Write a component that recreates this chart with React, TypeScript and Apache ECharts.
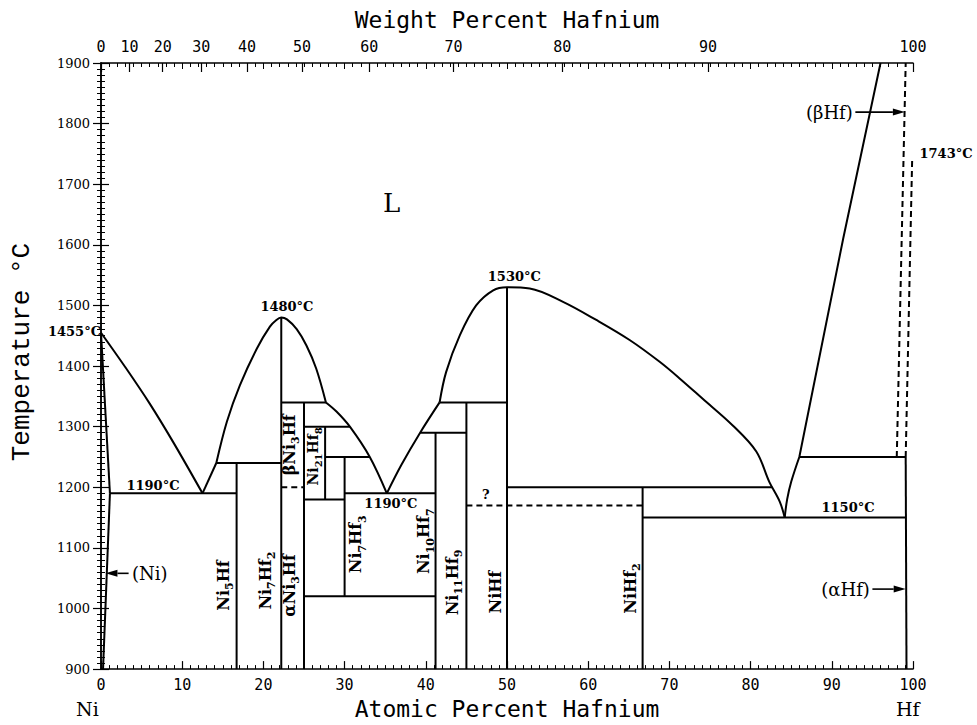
import React, { useEffect, useRef } from "react";
import * as echarts from "echarts";

const SERIF = "DejaVu Serif";
const MONO = "DejaVu Sans Mono";
const SLAB = "Liberation Mono";

// molar masses for the weight-percent scale
const M_NI = 58.69;
const M_HF = 178.49;

// axis ticks
const weightPercentTicks = [0, 10, 20, 30, 40, 50, 60, 70, 80, 90, 100];
const atomicRange = [0, 100];
const tempRange = [900, 1900];

// ---- phase boundaries (at.% Hf, °C) ----
const niLiquidus = [[0, 1455], [3, 1398], [6, 1338], [9, 1272], [12.5, 1190]];
const niSolidus = [[0, 1455], [1.1, 1190]];
const niSolvus = [[1.1, 1190], [0.25, 900]];
const niEutectic = [[1.1, 1190], [16.7, 1190]];
const ni5HfLiquidus = [[12.5, 1190], [14.2, 1240]];
const ni5HfPeritectic = [[14.2, 1240], [22.2, 1240]];
const ni5Hf = [[16.7, 900], [16.7, 1240]];
const ni7Hf2Liquidus = [[14.2, 1240], [15.5, 1308], [17.1, 1368], [19.2, 1429], [20.8, 1465], [21.6, 1476], [22.2, 1480], [22.9, 1477], [24.1, 1461], [25.3, 1434], [26.5, 1396], [27.7, 1340]];
const ni7Hf2 = [[22.2, 900], [22.2, 1480]];
const ni3Hf = [[25, 900], [25, 1340]];
const ni3HfPeritectic = [[22.2, 1340], [27.7, 1340]];
const ni3HfTransition = [[22.2, 1200], [25, 1200]];
const ni21Hf8Peritectic = [[25, 1300], [30.65, 1300]];
const ni21Hf8 = [[27.6, 1180], [27.6, 1300]];
const ni7Hf3Peritectic = [[27.6, 1250], [33.1, 1250]];
const ni21Hf8Eutectoid = [[25, 1180], [30, 1180]];
const ni7Hf3 = [[30, 1020], [30, 1250]];
const ni7Hf3Eutectoid = [[25, 1020], [41.2, 1020]];
const midLiquidusLeft = [[27.7, 1340], [29.0, 1325], [30.65, 1300], [33.1, 1250], [35.2, 1190]];
const midEutectic = [[30, 1190], [41.2, 1190]];
const midLiquidusRight = [[35.2, 1190], [37.0, 1237], [39.3, 1290], [41.7, 1340]];
const ni10Hf7 = [[41.2, 900], [41.2, 1290]];
const ni10Hf7Peritectic = [[39.3, 1290], [45, 1290]];
const ni11Hf9 = [[45, 900], [45, 1340]];
const ni11Hf9Peritectic = [[41.7, 1340], [50, 1340]];
const niHf = [[50, 900], [50, 1530]];
const niHfLiquidus = [[41.7, 1340], [42.5, 1390], [44.2, 1451], [46.2, 1500], [48.3, 1525], [50, 1530], [52.8, 1528], [56.9, 1506], [61.0, 1476], [65.1, 1443], [68.8, 1407], [71.4, 1378], [74.1, 1346], [77.8, 1302], [80.7, 1259], [82.3, 1209], [83.6, 1176], [84.2, 1150]];
const unknownTransition = [[45, 1170], [66.7, 1170]];
const niHf2Peritectic = [[50, 1200], [82.65, 1200]];
const niHf2 = [[66.7, 900], [66.7, 1200]];
const hfEutectic = [[66.7, 1150], [99.1, 1150]];
const betaHfLiquidusLow = [[84.2, 1150], [84.5, 1180], [85.0, 1209], [86.0, 1250]];
const betaHfLiquidus = [[86.0, 1250], [91.4, 1610], [96.0, 1900]];
const hfEutectoid = [[86.0, 1250], [99.1, 1250]];
const alphaHfSolvus = [[99.1, 1250], [99.2, 900]];
const betaHfBoundaryLeft = [[98.0, 1250], [99.1, 1900]];
const betaHfBoundaryRight = [[99.1, 1250], [99.9, 1743]];

// ---- annotations ----
const phaseLabels = [
  { text: "{b|Ni}{s|5}{b|Hf}", at: 15.3, t: 1038 },
  { text: "{b|Ni}{s|7}{b|Hf}{s|2}", at: 20.5, t: 1046 },
  { text: "{b|αNi}{s|3}{b|Hf}", at: 23.4, t: 1038 },
  { text: "{b|βNi}{s|3}{b|Hf}", at: 23.4, t: 1270 },
  { text: "{c|Ni}{u|21}{c|Hf}{u|8}", at: 26.3, t: 1251 },
  { text: "{b|Ni}{s|7}{b|Hf}{s|3}", at: 31.6, t: 1106 },
  { text: "{b|Ni}{s|10}{b|Hf}{s|7}", at: 40.0, t: 1111 },
  { text: "{b|Ni}{s|11}{b|Hf}{s|9}", at: 43.5, t: 1043 },
  { text: "{b|NiHf}", at: 48.8, t: 1027 },
  { text: "{b|NiHf}{s|2}", at: 65.4, t: 1033 },
];
const tempLabels = [
  { text: "1455°C", at: 0, t: 1457, align: "right" },
  { text: "1480°C", at: 22.9, t: 1498, align: "center" },
  { text: "1530°C", at: 50.9, t: 1547, align: "center" },
  { text: "1190°C", at: 6.4, t: 1203, align: "center" },
  { text: "1190°C", at: 35.7, t: 1174, align: "center" },
  { text: "1150°C", at: 92.0, t: 1167, align: "center" },
  { text: "1743°C", at: 100.8, t: 1751, align: "left" },
];
const plainLabels = [
  { text: "L", at: 35.8, t: 1669, size: 26 },
  { text: "?", at: 47.4, t: 1188, size: 13 },
  { text: "(Ni)", at: 6.0, t: 1058, size: 18 },
  { text: "(αHf)", at: 91.7, t: 1032, size: 18 },
  { text: "(βHf)", at: 89.7, t: 1819, size: 18 },
];
const arrows = [
  [3.4, 1058, 0.55, 1058],
  [95.0, 1032, 99.1, 1032],
  [92.9, 1819, 99.0, 1819],
];

const atFromWt = (w: number) =>
  w <= 0 ? 0 : w >= 100 ? 100 : ((w / M_HF) / (w / M_HF + (100 - w) / M_NI)) * 100;
const wtFromAt = (a: number) =>
  a <= 0 ? 0 : a >= 100 ? 100 : ((a * M_HF) / (a * M_HF + (100 - a) * M_NI)) * 100;

const INK = "#000";

function solid(data: number[][], smooth = false) {
  return {
    type: "line",
    data,
    symbol: "none",
    smooth: smooth ? 0.35 : false,
    silent: true,
    clip: false,
    lineStyle: { color: INK, width: 2 },
  };
}
function dashed(data: number[][]) {
  return {
    type: "line",
    data,
    symbol: "none",
    silent: true,
    clip: false,
    lineStyle: { color: INK, width: 2, type: [6, 4] },
  };
}

const rich = {
  b: { fontFamily: SERIF, fontWeight: "bold", fontSize: 16, lineHeight: 20, verticalAlign: "top", fill: INK },
  s: { fontFamily: SERIF, fontWeight: "bold", fontSize: 11, lineHeight: 20, verticalAlign: "bottom", fill: INK },
  c: { fontFamily: SERIF, fontWeight: "bold", fontSize: 14, lineHeight: 18, verticalAlign: "top", fill: INK },
  u: { fontFamily: SERIF, fontWeight: "bold", fontSize: 10, lineHeight: 18, verticalAlign: "bottom", fill: INK },
};

export default function App() {
  const ref = useRef<HTMLDivElement>(null);
  useEffect(() => {
    if (!ref.current) return;
    const chart = echarts.init(ref.current, null, { renderer: "svg" });
    const wtAt = weightPercentTicks.map(atFromWt);

    const boundaries = [
      solid(niLiquidus, true),
      solid(niSolidus),
      solid(niSolvus),
      solid(niEutectic),
      solid(ni5HfLiquidus),
      solid(ni5HfPeritectic),
      solid(ni5Hf),
      solid(ni7Hf2Liquidus, true),
      solid(ni7Hf2),
      solid(ni3Hf),
      solid(ni3HfPeritectic),
      dashed(ni3HfTransition),
      solid(ni21Hf8Peritectic),
      solid(ni21Hf8),
      solid(ni7Hf3Peritectic),
      solid(ni21Hf8Eutectoid),
      solid(ni7Hf3),
      solid(ni7Hf3Eutectoid),
      solid(midLiquidusLeft, true),
      solid(midEutectic),
      solid(midLiquidusRight, true),
      solid(ni10Hf7),
      solid(ni10Hf7Peritectic),
      solid(ni11Hf9),
      solid(ni11Hf9Peritectic),
      solid(niHf),
      solid(niHfLiquidus, true),
      dashed(unknownTransition),
      solid(niHf2Peritectic),
      solid(niHf2),
      solid(hfEutectic),
      solid(betaHfLiquidusLow, true),
      solid(betaHfLiquidus),
      solid(hfEutectoid),
      solid(alphaHfSolvus),
      dashed(betaHfBoundaryLeft),
      dashed(betaHfBoundaryRight),
    ];

    const phaseSeries = {
      type: "custom",
      coordinateSystem: "cartesian2d",
      clip: false,
      silent: true,
      data: phaseLabels.map((l) => [l.at, l.t]),
      renderItem: (params: any, api: any) => {
        const l = phaseLabels[params.dataIndex];
        const p = api.coord([api.value(0), api.value(1)]);
        return {
          type: "text",
          x: p[0],
          y: p[1],
          rotation: Math.PI / 2,
          style: { text: l.text, rich, align: "center", verticalAlign: "middle", fill: INK },
        };
      },
    };
    const tempSeries = {
      type: "custom",
      coordinateSystem: "cartesian2d",
      clip: false,
      silent: true,
      data: tempLabels.map((l) => [l.at, l.t]),
      renderItem: (params: any, api: any) => {
        const l = tempLabels[params.dataIndex];
        const p = api.coord([api.value(0), api.value(1)]);
        return {
          type: "text",
          x: p[0],
          y: p[1],
          style: {
            text: l.text,
            fontFamily: SERIF,
            fontWeight: "bold",
            fontSize: 13,
            align: l.align,
            verticalAlign: "middle",
            fill: INK,
          },
        };
      },
    };
    const plainSeries = {
      type: "custom",
      coordinateSystem: "cartesian2d",
      clip: false,
      silent: true,
      data: plainLabels.map((l) => [l.at, l.t]),
      renderItem: (params: any, api: any) => {
        const l = plainLabels[params.dataIndex];
        const p = api.coord([api.value(0), api.value(1)]);
        return {
          type: "text",
          x: p[0],
          y: p[1],
          style: {
            text: l.text,
            fontFamily: SERIF,
            fontWeight: l.text === "?" ? "bold" : "normal",
            fontSize: l.size,
            align: "center",
            verticalAlign: "middle",
            fill: INK,
          },
        };
      },
    };
    const arrowSeries = {
      type: "custom",
      coordinateSystem: "cartesian2d",
      clip: false,
      silent: true,
      data: arrows,
      renderItem: (params: any, api: any) => {
        const a = api.coord([api.value(0), api.value(1)]);
        const b = api.coord([api.value(2), api.value(3)]);
        const dx = b[0] - a[0];
        const dy = b[1] - a[1];
        const len = Math.hypot(dx, dy) || 1;
        const ux = dx / len;
        const uy = dy / len;
        const hl = 12;
        const hw = 3.5;
        const bx = b[0] - ux * hl;
        const by = b[1] - uy * hl;
        return {
          type: "group",
          children: [
            { type: "line", shape: { x1: a[0], y1: a[1], x2: bx, y2: by }, style: { stroke: INK, lineWidth: 1.6 } },
            {
              type: "polygon",
              shape: { points: [[b[0], b[1]], [bx - uy * hw, by + ux * hw], [bx + uy * hw, by - ux * hw]] },
              style: { fill: INK },
            },
          ],
        };
      },
    };

    const axisLineStyle = { color: INK, width: 1.5 };
    const option: any = {
      animation: false,
      backgroundColor: "#fff",
      grid: { left: 101, top: 63, width: 812, height: 608 },
      xAxis: [
        {
          type: "value",
          position: "bottom",
          min: atomicRange[0],
          max: atomicRange[1],
          interval: 10,
          name: "Atomic Percent Hafnium",
          nameLocation: "middle",
          nameGap: 27,
          nameTextStyle: { fontFamily: MONO, fontSize: 23, color: INK },
          axisLine: { lineStyle: axisLineStyle },
          axisTick: { inside: true, length: 8, lineStyle: { color: INK, width: 1.2 } },
          minorTick: { show: true, splitNumber: 10, length: 4, lineStyle: { color: INK, width: 1 } },
          axisLabel: { fontFamily: MONO, fontSize: 15, color: INK, margin: 8 },
          splitLine: { show: false },
        },
        {
          type: "value",
          position: "top",
          min: atomicRange[0],
          max: atomicRange[1],
          interval: 10,
          name: "Weight Percent Hafnium",
          nameLocation: "middle",
          nameGap: 32,
          nameTextStyle: { fontFamily: MONO, fontSize: 23, color: INK },
          axisLine: { lineStyle: axisLineStyle },
          axisTick: { show: true, inside: true, length: 6, lineStyle: { color: INK, width: 1 } },
          minorTick: { show: true, splitNumber: 10, length: 4, lineStyle: { color: INK, width: 1 } },
          axisLabel: { show: false },
          splitLine: { show: false },
        },
        {
          type: "value",
          position: "top",
          min: atomicRange[0],
          max: atomicRange[1],
          axisLine: { show: false },
          axisTick: { show: true, inside: true, length: 9, customValues: wtAt, lineStyle: { color: INK, width: 1.2 } },
          axisLabel: {
            show: true,
            customValues: wtAt,
            formatter: (v: number) => String(Math.round(wtFromAt(v))),
            fontFamily: MONO,
            fontSize: 15,
            color: INK,
            margin: 9,
          },
          splitLine: { show: false },
        },
      ],
      yAxis: [
        {
          type: "value",
          position: "left",
          min: tempRange[0],
          max: tempRange[1],
          interval: 100,
          name: "Temperature °C",
          nameLocation: "middle",
          nameRotate: 90,
          nameGap: 66,
          nameTextStyle: { fontFamily: SLAB, fontSize: 26, color: INK, padding: [0, 0, 0, 28] },
          axisLine: { lineStyle: axisLineStyle },
          axisTick: { inside: false, length: 8, lineStyle: { color: INK, width: 1.2 } },
          minorTick: { show: true, splitNumber: 10, length: 4, lineStyle: { color: INK, width: 1 } },
          axisLabel: { fontFamily: SERIF, fontSize: 13, color: INK, margin: 11, formatter: (v: number) => String(v) },
          splitLine: { show: false },
        },
        {
          type: "value",
          position: "right",
          min: tempRange[0],
          max: tempRange[1],
          interval: 100,
          axisLine: { show: true, lineStyle: axisLineStyle },
          axisTick: { show: true, inside: false, length: 8, lineStyle: { color: INK, width: 1.2 } },
          minorTick: { show: true, splitNumber: 10, length: 4, lineStyle: { color: INK, width: 1 } },
          axisLabel: { show: false },
          splitLine: { show: false },
        },
      ],
      graphic: [
        { type: "text", left: 76, top: 699, style: { text: "Ni", fontFamily: SERIF, fontSize: 19, fill: INK } },
        { type: "text", left: 896, top: 699, style: { text: "Hf", fontFamily: SERIF, fontSize: 19, fill: INK } },
      ],
      series: [...boundaries, phaseSeries, tempSeries, plainSeries, arrowSeries],
    };
    chart.setOption(option);
    return () => chart.dispose();
  }, []);
  return <div ref={ref} style={{ position: "absolute", left: 0, top: 0, width: 977, height: 725 }} />;
}
